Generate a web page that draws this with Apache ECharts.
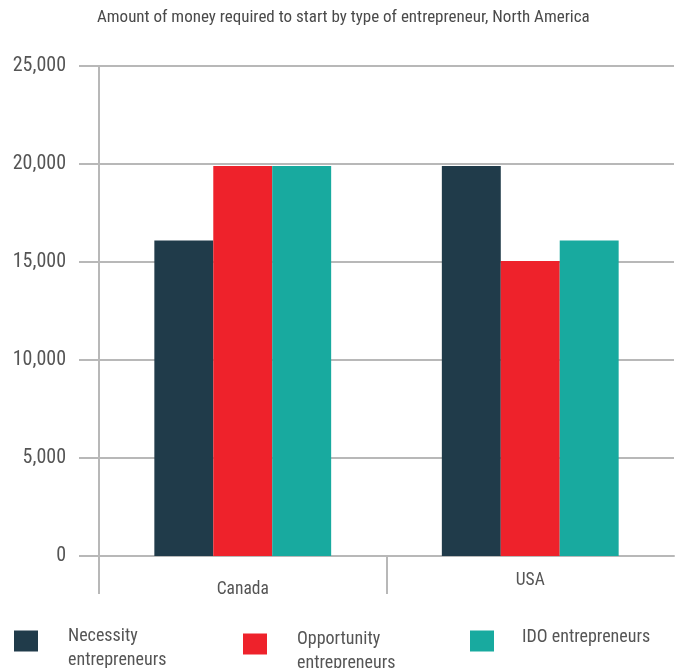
<!DOCTYPE html>
<html>
<head>
<meta charset="utf-8">
<script src="https://cdn.jsdelivr.net/npm/echarts@6/dist/echarts.min.js"></script>
<style>
html,body{margin:0;padding:0;background:#fff;}
#c{width:682px;height:668px;}
</style>
</head>
<body>
<div id="c"></div>
<script>
const titleText = 'Amount of money required to start by type of entrepreneur, North America';
const categories = ['Canada', 'USA'];
const seriesNames = ['Necessity entrepreneurs', 'Opportunity entrepreneurs', 'IDO entrepreneurs'];
const necessity = [16100, 19900];
const opportunity = [19900, 15050];
const ido = [19900, 16100];
const yTicks = [0, 5000, 10000, 15000, 20000, 25000];

const colors = ['#203b4a', '#ee222b', '#18aa9f'];
const font = '"Roboto Condensed", Roboto, sans-serif';
const gray = '#b8b8b8';
const txt = '#555555';

const chart = echarts.init(document.getElementById('c'));
const labelPad = { Canada: [9, 0, 0, 0], USA: [0, 0, 0, 0] };

const legendLeft = [9, 238, 465];
const legendTop = [611.5, 614.5, 623];
const legendFmt = [
  '{g| }\n{t|Necessity}\n{t|entrepreneurs}',
  '{g| }\n{t|Opportunity}\n{t|entrepreneurs}',
  '{t|IDO entrepreneurs}\n{h| }'
];
const legendPadLeft = [25, 25, 23];

chart.setOption({
  animation: false,
  title: {
    text: titleText,
    left: 92, top: 4,
    textStyle: { fontFamily: font, fontSize: 17, fontWeight: 'normal', color: '#4a4a4a' }
  },
  legend: seriesNames.map((n, i) => ({
    data: [n],
    left: legendLeft[i],
    top: legendTop[i],
    icon: 'rect',
    itemWidth: 24,
    itemHeight: 21,
    itemGap: 0,
    selectedMode: false,
    formatter: () => legendFmt[i],
    textStyle: {
      fontFamily: font, fontSize: 18, color: txt,
      rich: {
        t: { fontFamily: font, fontSize: 18, color: txt, lineHeight: 24, padding: [0, 0, 0, legendPadLeft[i]] },
        g: { fontSize: 1, lineHeight: 15 },
        h: { fontSize: 1, lineHeight: 8 }
      }
    }
  })),
  grid: { left: 99, right: 8, top: 66, bottom: 112, containLabel: false },
  xAxis: [{
    type: 'category',
    data: categories.map(c => ({ value: c, textStyle: { padding: labelPad[c] } })),
    axisLine: { show: true, lineStyle: { color: gray, width: 2 } },
    axisTick: { show: false },
    axisLabel: { fontFamily: font, fontSize: 17.5, color: txt, margin: 16 }
  }, {
    type: 'value',
    position: 'bottom',
    min: 0, max: 2, interval: 1,
    axisLine: { show: false },
    axisTick: { show: true, length: 38, customValues: [0, 1], lineStyle: { color: gray, width: 2 } },
    axisLabel: { show: false },
    splitLine: { show: false }
  }],
  yAxis: {
    type: 'value',
    min: yTicks[0], max: yTicks[yTicks.length - 1], interval: yTicks[1] - yTicks[0],
    axisLine: { show: true, lineStyle: { color: gray, width: 2 } },
    axisTick: { show: true, length: 20, lineStyle: { color: gray, width: 2 } },
    splitLine: { show: true, lineStyle: { color: gray, width: 2 } },
    axisLabel: {
      fontFamily: font, fontSize: 20, color: txt, margin: 33,
      formatter: v => v.toLocaleString('en-US')
    }
  },
  series: [necessity, opportunity, ido].map((d, i) => ({
    name: seriesNames[i],
    type: 'bar',
    data: d,
    xAxisIndex: 0,
    barGap: '0%',
    barCategoryGap: '38.5%',
    itemStyle: { color: colors[i] },
    z: 3
  }))
});
</script>
</body>
</html>
